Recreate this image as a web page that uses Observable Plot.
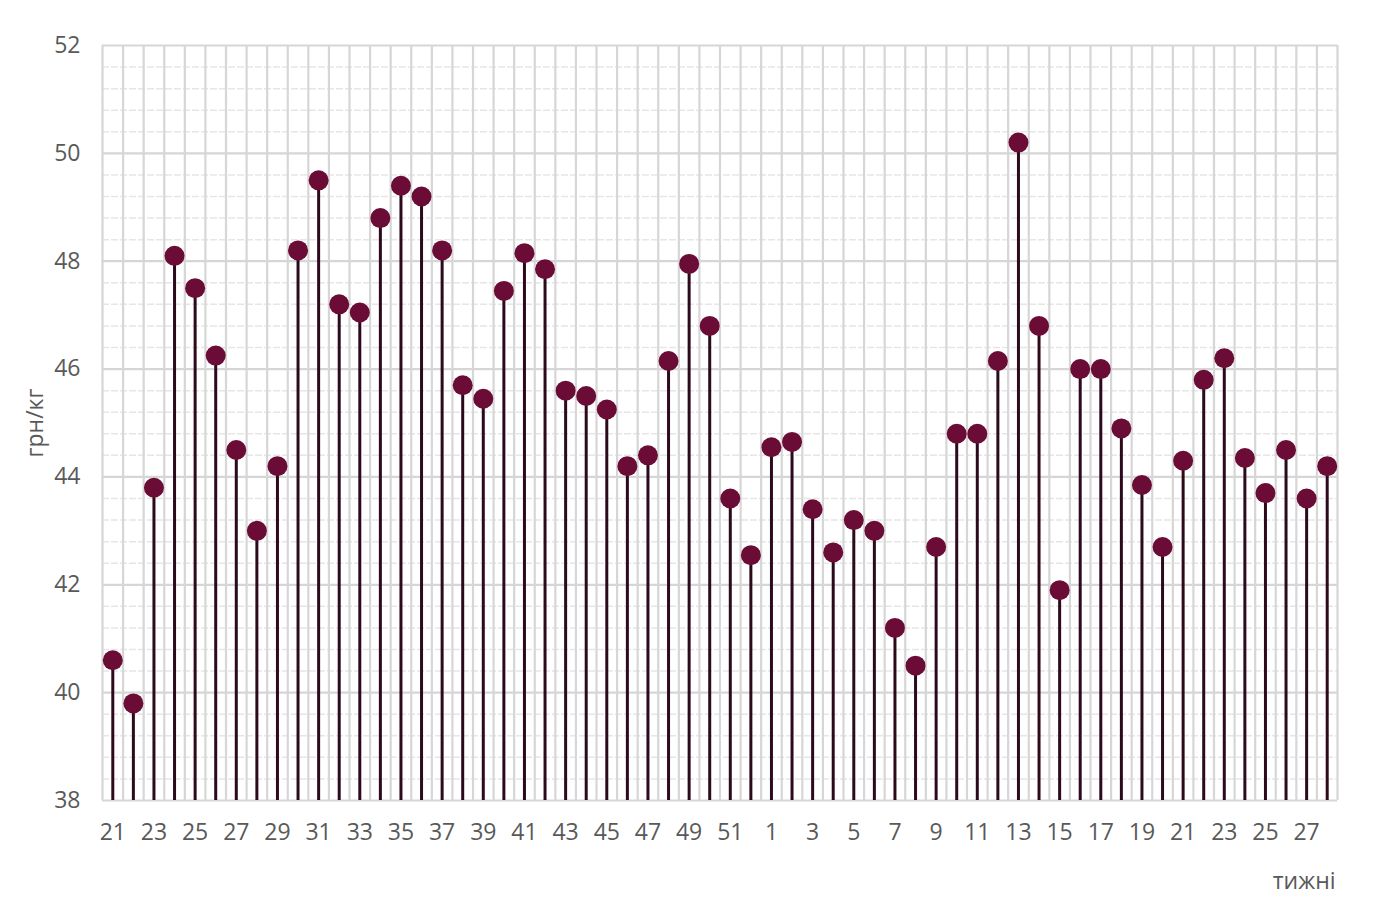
<!DOCTYPE html>
<html>
<head>
<meta charset="utf-8">
<script src="https://cdn.jsdelivr.net/npm/d3@7"></script>
<script src="https://cdn.jsdelivr.net/npm/@observablehq/plot@0.6"></script>
<style>
  html, body { margin: 0; padding: 0; background: #ffffff; }
  #chart svg { display: block; }
  #chart svg text { font-family: 'Open Sans', sans-serif !important; font-size: 23px !important; }
</style>
</head>
<body>
<div id="chart"></div>
<script>
const weeks = [21,22,23,24,25,26,27,28,29,30,31,32,33,34,35,36,37,38,39,40,41,42,43,44,45,46,47,48,49,50,51,52,
               1,2,3,4,5,6,7,8,9,10,11,12,13,14,15,16,17,18,19,20,21,22,23,24,25,26,27,28];
const prices = [40.6,39.8,43.8,48.1,47.5,46.25,44.5,43.0,44.2,48.2,
                49.5,47.2,47.05,48.8,49.4,49.2,48.2,45.7,45.45,47.45,
                48.15,47.85,45.6,45.5,45.25,44.2,44.4,46.15,47.95,46.8,
                43.6,42.55,44.55,44.65,43.4,42.6,43.2,43.0,41.2,40.5,
                42.7,44.8,44.8,46.15,50.2,46.8,41.9,46.0,46.0,44.9,
                43.85,42.7,44.3,45.8,46.2,44.35,43.7,44.5,43.6,44.2];
const yTicks = [38,40,42,44,46,48,50,52];
const yLabel = "грн/кг";
const xLabel = "тижні";

const data = weeks.map((w, i) => ({i, week: w, price: prices[i]}));
const xTickIdx = d3.range(0, weeks.length, 2);
const boundaries = d3.range(-0.5, weeks.length, 1);
const yMin = yTicks[0], yMax = yTicks[yTicks.length - 1];
const minorY = d3.range(yMin, yMax + 0.001, 0.4).filter(v => Math.abs(v / 2 - Math.round(v / 2)) > 0.01);

const chart = Plot.plot({
  width: 1386,
  height: 912,
  marginLeft: 102,
  marginRight: 49,
  marginTop: 45,
  marginBottom: 112,
  style: {fontFamily: "'Open Sans', sans-serif", fontSize: "23px", color: "#595959", background: "#ffffff"},
  x: {type: "linear", domain: [-0.5, weeks.length - 0.5]},
  y: {domain: [yMin, yMax]},
  marks: [
    Plot.ruleY(minorY, {stroke: "#e6e6e6", strokeWidth: 1.5, strokeDasharray: "7,2"}),
    Plot.ruleX(boundaries, {stroke: "#d6d6d6", strokeWidth: 2.2}),
    Plot.ruleY(yTicks, {stroke: "#d6d6d6", strokeWidth: 2.2}),
    Plot.axisY(yTicks, {tickSize: 0, tickPadding: 22, fill: "#595959", fontSize: 23,
      tickFormat: d => String(d), label: null}),
    Plot.axisX(xTickIdx, {tickSize: 0, tickPadding: 23, fill: "#595959", fontSize: 23,
      tickFormat: i => String(weeks[i]), label: null}),
    Plot.text([yLabel], {frameAnchor: "left", text: d => d, rotate: -90, dx: -67,
      fill: "#595959", fontSize: 23, textAnchor: "middle"}),
    Plot.text([xLabel], {frameAnchor: "bottom-right", text: d => d, dy: 88, dx: -2,
      fill: "#595959", fontSize: 23, textAnchor: "end"}),
    Plot.ruleX(data, {x: "i", y1: yMin, y2: "price", stroke: "#2c0a1b", strokeWidth: 3}),
    Plot.dot(data, {x: "i", y: "price", r: 10, fill: "#6b0c37", stroke: "none"})
  ]
});
document.getElementById("chart").appendChild(chart);
</script>
</body>
</html>
